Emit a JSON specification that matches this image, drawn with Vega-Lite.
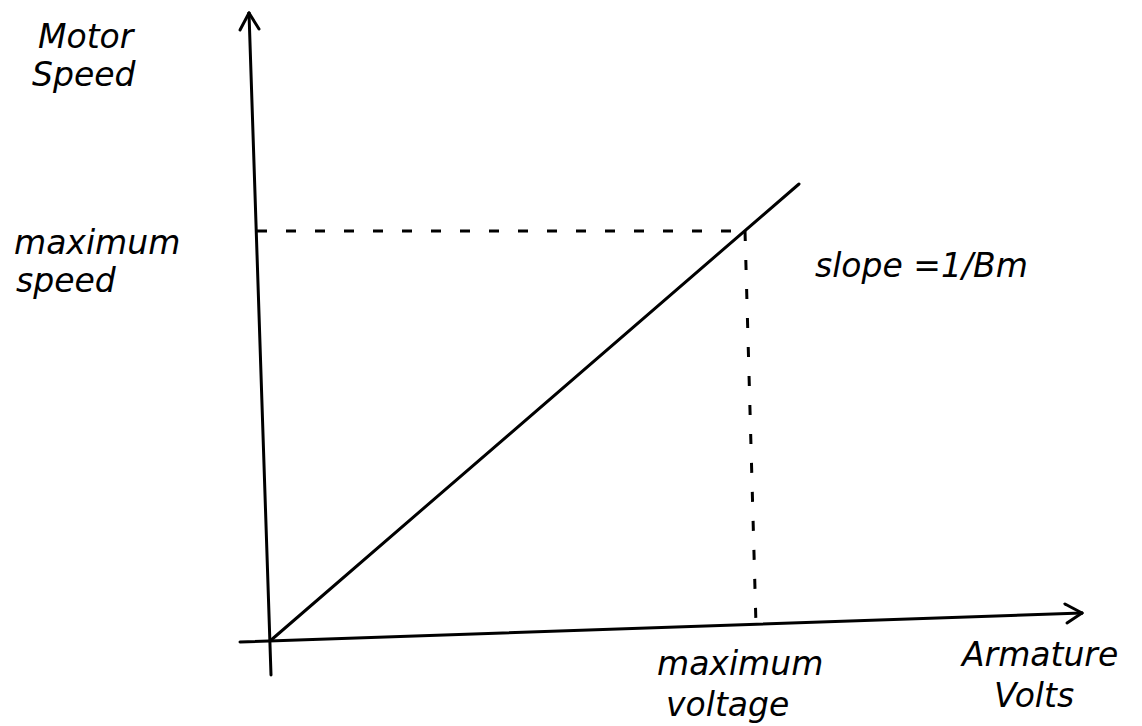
{
  "$schema": "https://vega.github.io/schema/vega-lite/v6.json",
  "width": 1142,
  "height": 726,
  "padding": 0,
  "autosize": {"type": "fit", "contains": "padding"},
  "background": "white",
  "config": {"view": {"stroke": null}},
  "datasets": {
    "solid": [
      {"part": "y axis", "x": 249, "y": 13, "x2": 271, "y2": 675},
      {"part": "x axis", "x": 240, "y": 642, "x2": 1082, "y2": 613},
      {"part": "response", "x": 270, "y": 641, "x2": 799, "y2": 184},
      {"part": "y arrow left", "x": 249, "y": 13, "x2": 240, "y2": 30},
      {"part": "y arrow right", "x": 249, "y": 13, "x2": 259, "y2": 29},
      {"part": "x arrow top", "x": 1082, "y": 613, "x2": 1065, "y2": 604},
      {"part": "x arrow bottom", "x": 1082, "y": 613, "x2": 1067, "y2": 623}
    ],
    "dashed": [
      {"part": "max speed", "x": 257, "y": 231, "x2": 745, "y2": 231},
      {"part": "max voltage", "x": 745, "y": 231, "x2": 756, "y2": 625}
    ],
    "labels": [
      {"text": "Motor", "x": 38, "y": 48},
      {"text": "Speed", "x": 32, "y": 86},
      {"text": "maximum", "x": 14, "y": 254},
      {"text": "speed", "x": 16, "y": 292},
      {"text": "slope =1/Bm", "x": 815, "y": 277},
      {"text": "maximum", "x": 657, "y": 675},
      {"text": "voltage", "x": 666, "y": 716},
      {"text": "Armature", "x": 962, "y": 666},
      {"text": "Volts", "x": 994, "y": 707}
    ]
  },
  "layer": [
    {
      "data": {"name": "solid"},
      "mark": {"type": "rule", "color": "black", "strokeWidth": 3, "strokeCap": "round"},
      "encoding": {
        "x": {"field": "x", "type": "quantitative", "scale": {"domain": [0, 1142], "nice": false, "zero": false}, "axis": null},
        "y": {"field": "y", "type": "quantitative", "scale": {"domain": [0, 726], "nice": false, "zero": false, "reverse": true}, "axis": null},
        "x2": {"field": "x2"},
        "y2": {"field": "y2"}
      }
    },
    {
      "data": {"name": "dashed"},
      "mark": {"type": "rule", "color": "black", "strokeWidth": 3, "strokeDash": [10, 19]},
      "encoding": {
        "x": {"field": "x", "type": "quantitative", "scale": {"domain": [0, 1142], "nice": false, "zero": false}, "axis": null},
        "y": {"field": "y", "type": "quantitative", "scale": {"domain": [0, 726], "nice": false, "zero": false, "reverse": true}, "axis": null},
        "x2": {"field": "x2"},
        "y2": {"field": "y2"}
      }
    },
    {
      "data": {"name": "labels"},
      "mark": {"type": "text", "align": "left", "baseline": "alphabetic", "font": "DejaVu Sans", "fontStyle": "italic", "fontSize": 33, "color": "black"},
      "encoding": {
        "x": {"field": "x", "type": "quantitative", "scale": {"domain": [0, 1142], "nice": false, "zero": false}, "axis": null},
        "y": {"field": "y", "type": "quantitative", "scale": {"domain": [0, 726], "nice": false, "zero": false, "reverse": true}, "axis": null},
        "text": {"field": "text"}
      }
    }
  ]
}
